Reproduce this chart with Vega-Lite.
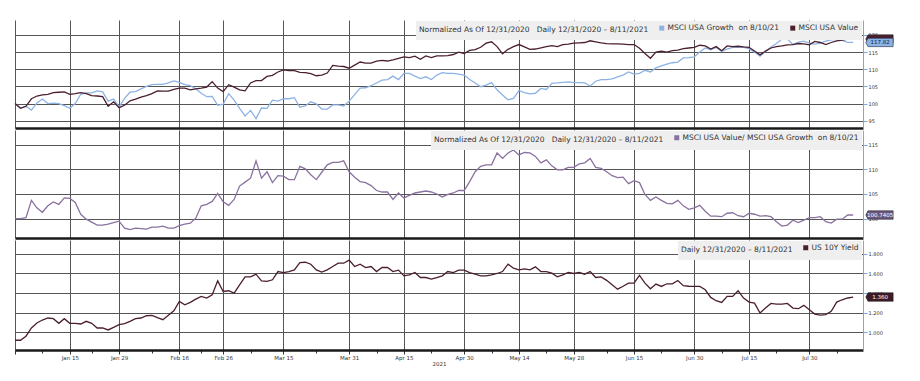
{
  "$schema": "https://vega.github.io/schema/vega-lite/v6.json",
  "padding": {"left": 12, "top": 20, "right": 4, "bottom": 4},
  "background": "white",
  "spacing": 2,
  "datasets": {
    "t": [
      {"d":"2020-12-31","g":100.0,"v":100.0,"r":100.0,"y":0.919},
      {"d":"2021-01-04","g":98.7,"v":98.6,"r":100.0,"y":0.919},
      {"d":"2021-01-05","g":99.2,"v":99.2,"r":100.2,"y":0.96},
      {"d":"2021-01-06","g":98.1,"v":101.4,"r":103.7,"y":1.044},
      {"d":"2021-01-07","g":100.2,"v":102.2,"r":102.2,"y":1.095},
      {"d":"2021-01-08","g":101.3,"v":102.5,"r":101.3,"y":1.125},
      {"d":"2021-01-11","g":100.0,"v":102.7,"r":102.6,"y":1.146},
      {"d":"2021-01-12","g":100.1,"v":103.2,"r":103.4,"y":1.139},
      {"d":"2021-01-13","g":100.0,"v":103.3,"r":102.9,"y":1.092},
      {"d":"2021-01-14","g":99.4,"v":103.4,"r":104.2,"y":1.139},
      {"d":"2021-01-15","g":98.6,"v":102.7,"r":104.1,"y":1.092},
      {"d":"2021-01-19","g":100.0,"v":102.9,"r":103.3,"y":1.092},
      {"d":"2021-01-20","g":102.7,"v":103.2,"r":100.9,"y":1.085},
      {"d":"2021-01-21","g":103.1,"v":102.9,"r":99.9,"y":1.112},
      {"d":"2021-01-22","g":103.1,"v":102.3,"r":99.3,"y":1.092},
      {"d":"2021-01-25","g":103.7,"v":102.2,"r":98.7,"y":1.044},
      {"d":"2021-01-26","g":103.4,"v":102.0,"r":98.7,"y":1.044},
      {"d":"2021-01-27","g":100.7,"v":99.2,"r":98.9,"y":1.024},
      {"d":"2021-01-28","g":101.3,"v":100.5,"r":99.2,"y":1.051},
      {"d":"2021-01-29","g":99.0,"v":98.8,"r":99.5,"y":1.078},
      {"d":"2021-02-01","g":101.5,"v":99.5,"r":98.1,"y":1.088},
      {"d":"2021-02-02","g":103.3,"v":100.8,"r":97.8,"y":1.112},
      {"d":"2021-02-03","g":103.5,"v":101.3,"r":98.1,"y":1.139},
      {"d":"2021-02-04","g":104.3,"v":101.9,"r":98.0,"y":1.146},
      {"d":"2021-02-05","g":105.0,"v":102.3,"r":97.9,"y":1.169},
      {"d":"2021-02-08","g":105.5,"v":102.9,"r":98.3,"y":1.173},
      {"d":"2021-02-09","g":105.6,"v":103.7,"r":98.3,"y":1.150},
      {"d":"2021-02-10","g":105.6,"v":103.6,"r":98.5,"y":1.129},
      {"d":"2021-02-11","g":106.0,"v":103.6,"r":98.1,"y":1.173},
      {"d":"2021-02-12","g":106.6,"v":104.1,"r":98.1,"y":1.22},
      {"d":"2021-02-16","g":106.2,"v":104.5,"r":98.6,"y":1.315},
      {"d":"2021-02-17","g":105.5,"v":104.5,"r":98.9,"y":1.281},
      {"d":"2021-02-18","g":105.2,"v":104.0,"r":99.1,"y":1.305},
      {"d":"2021-02-19","g":104.3,"v":104.3,"r":100.1,"y":1.339},
      {"d":"2021-02-22","g":103.0,"v":104.5,"r":102.6,"y":1.366},
      {"d":"2021-02-23","g":102.0,"v":104.8,"r":102.9,"y":1.349},
      {"d":"2021-02-24","g":102.1,"v":106.4,"r":103.5,"y":1.383},
      {"d":"2021-02-25","g":99.5,"v":104.5,"r":105.1,"y":1.525},
      {"d":"2021-02-26","g":99.8,"v":103.5,"r":103.4,"y":1.417},
      {"d":"2021-03-01","g":102.9,"v":105.5,"r":102.7,"y":1.424},
      {"d":"2021-03-02","g":101.0,"v":104.8,"r":103.9,"y":1.40},
      {"d":"2021-03-03","g":98.6,"v":104.0,"r":106.6,"y":1.485},
      {"d":"2021-03-04","g":96.4,"v":103.7,"r":107.4,"y":1.566},
      {"d":"2021-03-05","g":98.0,"v":106.0,"r":108.2,"y":1.566},
      {"d":"2021-03-08","g":95.6,"v":106.7,"r":111.7,"y":1.593},
      {"d":"2021-03-09","g":98.7,"v":106.7,"r":108.2,"y":1.525},
      {"d":"2021-03-10","g":98.6,"v":107.9,"r":109.5,"y":1.519},
      {"d":"2021-03-11","g":101.0,"v":108.2,"r":107.3,"y":1.536},
      {"d":"2021-03-12","g":100.7,"v":109.2,"r":108.7,"y":1.62},
      {"d":"2021-03-15","g":101.4,"v":109.8,"r":108.6,"y":1.61},
      {"d":"2021-03-16","g":101.4,"v":109.6,"r":107.9,"y":1.62},
      {"d":"2021-03-17","g":101.7,"v":109.6,"r":107.9,"y":1.637},
      {"d":"2021-03-18","g":98.9,"v":109.1,"r":110.6,"y":1.712},
      {"d":"2021-03-19","g":99.3,"v":109.0,"r":110.1,"y":1.715},
      {"d":"2021-03-22","g":100.5,"v":108.7,"r":108.9,"y":1.695},
      {"d":"2021-03-23","g":99.9,"v":108.1,"r":107.9,"y":1.637},
      {"d":"2021-03-24","g":98.4,"v":108.3,"r":109.4,"y":1.614},
      {"d":"2021-03-25","g":98.4,"v":108.9,"r":110.9,"y":1.637},
      {"d":"2021-03-26","g":99.6,"v":111.1,"r":111.4,"y":1.671},
      {"d":"2021-03-29","g":99.6,"v":110.9,"r":111.4,"y":1.705},
      {"d":"2021-03-30","g":99.3,"v":110.8,"r":111.7,"y":1.705},
      {"d":"2021-03-31","g":100.7,"v":110.3,"r":109.5,"y":1.736},
      {"d":"2021-04-01","g":102.6,"v":111.2,"r":108.4,"y":1.671},
      {"d":"2021-04-05","g":104.5,"v":112.1,"r":107.5,"y":1.695},
      {"d":"2021-04-06","g":104.6,"v":111.8,"r":107.3,"y":1.661},
      {"d":"2021-04-07","g":105.2,"v":111.8,"r":106.7,"y":1.671},
      {"d":"2021-04-08","g":106.0,"v":112.4,"r":105.7,"y":1.62},
      {"d":"2021-04-09","g":106.8,"v":112.6,"r":105.4,"y":1.661},
      {"d":"2021-04-12","g":107.0,"v":112.4,"r":105.4,"y":1.661},
      {"d":"2021-04-13","g":108.0,"v":112.7,"r":103.9,"y":1.62},
      {"d":"2021-04-14","g":107.0,"v":113.2,"r":105.2,"y":1.634},
      {"d":"2021-04-15","g":108.8,"v":113.6,"r":104.2,"y":1.576},
      {"d":"2021-04-16","g":108.8,"v":113.4,"r":104.7,"y":1.586},
      {"d":"2021-04-19","g":108.0,"v":113.8,"r":105.2,"y":1.61},
      {"d":"2021-04-20","g":107.3,"v":112.9,"r":105.4,"y":1.559},
      {"d":"2021-04-21","g":107.8,"v":113.9,"r":105.6,"y":1.559},
      {"d":"2021-04-22","g":107.0,"v":113.4,"r":105.4,"y":1.542},
      {"d":"2021-04-23","g":108.3,"v":113.9,"r":105.0,"y":1.559},
      {"d":"2021-04-26","g":109.0,"v":113.9,"r":104.4,"y":1.576},
      {"d":"2021-04-27","g":108.8,"v":114.0,"r":104.9,"y":1.62},
      {"d":"2021-04-28","g":108.8,"v":114.3,"r":105.2,"y":1.61},
      {"d":"2021-04-29","g":108.6,"v":115.0,"r":105.7,"y":1.634},
      {"d":"2021-04-30","g":108.3,"v":114.6,"r":105.7,"y":1.634},
      {"d":"2021-05-03","g":107.0,"v":115.5,"r":107.5,"y":1.61},
      {"d":"2021-05-04","g":106.0,"v":115.7,"r":109.5,"y":1.593},
      {"d":"2021-05-05","g":104.9,"v":116.4,"r":110.6,"y":1.576},
      {"d":"2021-05-06","g":105.4,"v":117.6,"r":110.9,"y":1.576},
      {"d":"2021-05-07","g":106.1,"v":118.0,"r":110.9,"y":1.586},
      {"d":"2021-05-10","g":104.0,"v":116.6,"r":113.3,"y":1.60},
      {"d":"2021-05-11","g":102.5,"v":114.5,"r":112.2,"y":1.62},
      {"d":"2021-05-12","g":101.1,"v":115.8,"r":113.3,"y":1.695},
      {"d":"2021-05-13","g":101.5,"v":116.6,"r":113.9,"y":1.654},
      {"d":"2021-05-14","g":103.8,"v":117.2,"r":112.9,"y":1.637},
      {"d":"2021-05-17","g":103.2,"v":116.5,"r":113.4,"y":1.647},
      {"d":"2021-05-18","g":102.8,"v":115.8,"r":113.3,"y":1.637},
      {"d":"2021-05-19","g":103.0,"v":115.9,"r":112.6,"y":1.668},
      {"d":"2021-05-20","g":104.4,"v":116.2,"r":111.3,"y":1.62},
      {"d":"2021-05-21","g":104.1,"v":116.6,"r":111.9,"y":1.62},
      {"d":"2021-05-24","g":105.9,"v":116.9,"r":110.7,"y":1.603},
      {"d":"2021-05-25","g":106.0,"v":116.6,"r":109.9,"y":1.566},
      {"d":"2021-05-26","g":106.2,"v":117.2,"r":109.9,"y":1.586},
      {"d":"2021-05-27","g":106.3,"v":117.3,"r":110.4,"y":1.61},
      {"d":"2021-05-28","g":106.1,"v":117.6,"r":110.4,"y":1.60},
      {"d":"2021-06-01","g":106.1,"v":117.7,"r":111.1,"y":1.61},
      {"d":"2021-06-02","g":106.0,"v":117.8,"r":111.3,"y":1.593},
      {"d":"2021-06-03","g":105.1,"v":118.3,"r":112.2,"y":1.62},
      {"d":"2021-06-04","g":106.5,"v":118.0,"r":110.4,"y":1.559},
      {"d":"2021-06-07","g":107.0,"v":117.7,"r":110.2,"y":1.566},
      {"d":"2021-06-08","g":107.0,"v":117.5,"r":109.5,"y":1.53},
      {"d":"2021-06-09","g":107.2,"v":117.4,"r":108.7,"y":1.485},
      {"d":"2021-06-10","g":107.8,"v":117.4,"r":108.3,"y":1.44},
      {"d":"2021-06-11","g":108.3,"v":117.3,"r":108.4,"y":1.47},
      {"d":"2021-06-14","g":109.2,"v":117.2,"r":107.1,"y":1.502},
      {"d":"2021-06-15","g":108.6,"v":117.2,"r":107.7,"y":1.502},
      {"d":"2021-06-16","g":108.8,"v":116.1,"r":107.3,"y":1.58},
      {"d":"2021-06-17","g":109.7,"v":114.6,"r":104.9,"y":1.502},
      {"d":"2021-06-18","g":109.2,"v":113.2,"r":103.7,"y":1.444},
      {"d":"2021-06-21","g":110.4,"v":115.0,"r":104.4,"y":1.492},
      {"d":"2021-06-22","g":111.0,"v":115.3,"r":103.7,"y":1.468},
      {"d":"2021-06-23","g":111.5,"v":115.0,"r":103.1,"y":1.495},
      {"d":"2021-06-24","g":111.9,"v":115.4,"r":103.0,"y":1.495},
      {"d":"2021-06-25","g":112.1,"v":115.6,"r":103.7,"y":1.529},
      {"d":"2021-06-28","g":113.3,"v":116.0,"r":102.6,"y":1.475},
      {"d":"2021-06-29","g":113.4,"v":116.2,"r":101.9,"y":1.47},
      {"d":"2021-06-30","g":113.6,"v":116.4,"r":102.2,"y":1.468},
      {"d":"2021-07-01","g":115.0,"v":117.0,"r":102.7,"y":1.468},
      {"d":"2021-07-02","g":116.2,"v":116.8,"r":101.5,"y":1.434},
      {"d":"2021-07-06","g":115.7,"v":115.9,"r":100.5,"y":1.356},
      {"d":"2021-07-07","g":116.4,"v":116.6,"r":100.5,"y":1.322},
      {"d":"2021-07-08","g":115.2,"v":115.4,"r":100.4,"y":1.305},
      {"d":"2021-07-09","g":115.9,"v":116.8,"r":101.1,"y":1.366},
      {"d":"2021-07-12","g":116.4,"v":116.6,"r":101.2,"y":1.366},
      {"d":"2021-07-13","g":116.4,"v":116.7,"r":100.6,"y":1.424},
      {"d":"2021-07-14","g":116.4,"v":116.5,"r":100.4,"y":1.349},
      {"d":"2021-07-15","g":116.0,"v":116.4,"r":101.1,"y":1.308},
      {"d":"2021-07-16","g":115.0,"v":115.3,"r":100.9,"y":1.298},
      {"d":"2021-07-19","g":113.8,"v":114.2,"r":100.5,"y":1.197},
      {"d":"2021-07-20","g":115.2,"v":115.3,"r":100.6,"y":1.247},
      {"d":"2021-07-21","g":116.5,"v":116.2,"r":100.4,"y":1.295},
      {"d":"2021-07-22","g":117.5,"v":116.6,"r":99.4,"y":1.288},
      {"d":"2021-07-23","g":118.8,"v":116.8,"r":98.5,"y":1.288},
      {"d":"2021-07-26","g":118.8,"v":117.1,"r":98.7,"y":1.295},
      {"d":"2021-07-27","g":117.2,"v":117.2,"r":99.7,"y":1.247},
      {"d":"2021-07-28","g":117.9,"v":117.5,"r":99.2,"y":1.241},
      {"d":"2021-07-29","g":118.2,"v":117.4,"r":99.7,"y":1.275},
      {"d":"2021-07-30","g":117.6,"v":117.1,"r":100.2,"y":1.231},
      {"d":"2021-08-02","g":117.3,"v":118.1,"r":100.2,"y":1.186},
      {"d":"2021-08-03","g":117.6,"v":117.8,"r":100.4,"y":1.176},
      {"d":"2021-08-04","g":118.2,"v":117.2,"r":99.4,"y":1.18},
      {"d":"2021-08-05","g":118.6,"v":117.8,"r":99.1,"y":1.214},
      {"d":"2021-08-06","g":118.7,"v":118.3,"r":99.9,"y":1.308},
      {"d":"2021-08-09","g":118.4,"v":118.5,"r":99.9,"y":1.332},
      {"d":"2021-08-10","g":117.82,"v":118.8,"r":100.7405,"y":1.35},
      {"d":"2021-08-11","g":117.82,"v":118.8,"r":100.7405,"y":1.36}
    ]
  },
  "vconcat": [
    {
      "width": 848, "height": 108,
      "data": {"name": "t"},
      "encoding": {
        "x": {"field": "d", "type": "ordinal", "sort": "ascending",
          "scale": {"type": "point", "padding": 0.9, "align": 0},
          "axis": {"labels": false, "ticks": false, "title": null, "grid": true,
            "values": ["2020-12-31","2021-01-15","2021-01-29","2021-02-16","2021-02-26","2021-03-15","2021-03-31","2021-04-15","2021-04-30","2021-05-14","2021-05-28","2021-06-15","2021-06-30","2021-07-15","2021-07-30"]}}
      },
      "layer": [
        {
          "transform": [{"fold": ["g", "v"], "as": ["s", "val"]}],
          "mark": {"type": "line", "strokeWidth": 1.3},
          "encoding": {
            "y": {"field": "val", "type": "quantitative",
              "scale": {"domain": [92.87, 124.36], "nice": false, "zero": false},
              "axis": {"orient": "right", "title": null, "grid": true, "labelOverlap": false, "values": [95, 100, 105, 110, 115, 120], "format": "d"}},
            "color": {"field": "s", "type": "nominal",
              "scale": {"domain": ["g", "v"], "range": ["#8cb3e3", "#4b1f2e"]},
              "legend": {"title": "Normalized As Of 12/31/2020\u00a0\u00a0\u00a0Daily 12/31/2020 \u2013 8/11/2021",
                "labelExpr": "datum.value == 'g' ? 'MSCI USA Growth\u00a0\u00a0on 8/10/21' : 'MSCI USA Value'"}}
          }
        },
        {
          "transform": [{"filter": "datum.d == '2021-08-11'"}],
          "mark": {"type": "point", "shape": "M-0.95,0L-0.8,-0.3L1,-0.3L1,0.3L-0.8,0.3Z", "size": 784, "filled": true, "color": "#4b1f2e", "stroke": "#222222", "strokeWidth": 0.6, "opacity": 1, "xOffset": 26},
          "encoding": {"y": {"field": "v", "type": "quantitative",
            "axis": {"orient": "right", "title": null, "grid": true, "labelOverlap": false, "values": [95, 100, 105, 110, 115, 120], "format": "d"}}}
        },
        {
          "transform": [{"filter": "datum.d == '2021-08-11'"}],
          "mark": {"type": "point", "shape": "M-0.95,0L-0.8,-0.3L1,-0.3L1,0.3L-0.8,0.3Z", "size": 784, "filled": true, "color": "#8cb3e3", "stroke": "#1b2a4a", "strokeWidth": 0.6, "opacity": 1, "xOffset": 26},
          "encoding": {"y": {"field": "g", "type": "quantitative",
            "axis": {"orient": "right", "title": null, "grid": true, "labelOverlap": false, "values": [95, 100, 105, 110, 115, 120], "format": "d"}}}
        },
        {
          "transform": [{"filter": "datum.d == '2021-08-11'"}],
          "mark": {"type": "text", "dx": 27, "fontSize": 5.5, "color": "#0d1b3e", "baseline": "middle", "align": "center"},
          "encoding": {"y": {"field": "g", "type": "quantitative",
            "axis": {"orient": "right", "title": null, "grid": true, "labelOverlap": false, "values": [95, 100, 105, 110, 115, 120], "format": "d"}},
            "text": {"field": "g", "format": ".2f"}}
        }
      ]
    },
    {
      "width": 848, "height": 108,
      "data": {"name": "t"},
      "encoding": {
        "x": {"field": "d", "type": "ordinal", "sort": "ascending",
          "scale": {"type": "point", "padding": 0.9, "align": 0},
          "axis": {"labels": false, "ticks": false, "title": null, "grid": true,
            "values": ["2020-12-31","2021-01-15","2021-01-29","2021-02-16","2021-02-26","2021-03-15","2021-03-31","2021-04-15","2021-04-30","2021-05-14","2021-05-28","2021-06-15","2021-06-30","2021-07-15","2021-07-30"]}}
      },
      "layer": [
        {
          "mark": {"type": "line", "strokeWidth": 1.3},
          "encoding": {
            "y": {"field": "r", "type": "quantitative",
              "scale": {"domain": [96.09, 117.95], "nice": false, "zero": false},
              "axis": {"orient": "right", "title": null, "grid": true, "labelOverlap": false, "values": [100, 105, 110, 115], "format": "d"}},
            "color": {"datum": "r", "type": "nominal",
              "scale": {"domain": ["r"], "range": ["#8a72a0"]},
              "legend": {"title": "Normalized As Of 12/31/2020\u00a0\u00a0\u00a0Daily 12/31/2020 \u2013 8/11/2021",
                "labelExpr": "'MSCI USA Value/ MSCI USA Growth\u00a0\u00a0on 8/10/21'"}}
          }
        },
        {
          "transform": [{"filter": "datum.d == '2021-08-11'"}],
          "mark": {"type": "point", "shape": "M-0.95,0L-0.8,-0.3L1,-0.3L1,0.3L-0.8,0.3Z", "size": 784, "filled": true, "color": "#6b577f", "stroke": "#222222", "strokeWidth": 0.6, "opacity": 1, "xOffset": 26},
          "encoding": {"y": {"field": "r", "type": "quantitative",
            "axis": {"orient": "right", "title": null, "grid": true, "labelOverlap": false, "values": [100, 105, 110, 115], "format": "d"}}}
        },
        {
          "transform": [{"filter": "datum.d == '2021-08-11'"}],
          "mark": {"type": "text", "dx": 27, "fontSize": 5.5, "color": "white", "baseline": "middle", "align": "center"},
          "encoding": {"y": {"field": "r", "type": "quantitative",
            "axis": {"orient": "right", "title": null, "grid": true, "labelOverlap": false, "values": [100, 105, 110, 115], "format": "d"}},
            "text": {"field": "r", "format": ".4f"}}
        }
      ]
    },
    {
      "width": 848, "height": 110,
      "data": {"name": "t"},
      "encoding": {
        "x": {"field": "d", "type": "ordinal", "sort": "ascending",
          "scale": {"type": "point", "padding": 0.9, "align": 0},
          "axis": {"title": "2021", "grid": true,
            "values": ["2020-12-31","2021-01-08","2021-01-15","2021-01-22","2021-01-29","2021-02-08","2021-02-16","2021-02-22","2021-02-26","2021-03-05","2021-03-15","2021-03-23","2021-03-31","2021-04-08","2021-04-15","2021-04-22","2021-04-30","2021-05-07","2021-05-14","2021-05-21","2021-05-28","2021-06-08","2021-06-15","2021-06-22","2021-06-30","2021-07-08","2021-07-15","2021-07-22","2021-07-30","2021-08-06"],
            "labelExpr": "indexof(['2021-01-15','2021-01-29','2021-02-16','2021-02-26','2021-03-15','2021-03-31','2021-04-15','2021-04-30','2021-05-14','2021-05-28','2021-06-15','2021-06-30','2021-07-15','2021-07-30'], datum.value) >= 0 ? utcFormat(toDate(datum.value), '%b %d') : ''",
            "gridOpacity": {"condition": {"test": "indexof(['2020-12-31','2021-01-15','2021-01-29','2021-02-16','2021-02-26','2021-03-15','2021-03-31','2021-04-15','2021-04-30','2021-05-14','2021-05-28','2021-06-15','2021-06-30','2021-07-15','2021-07-30'], datum.value) >= 0", "value": 1}, "value": 0},
            "tickSize": {"condition": {"test": "indexof(['2020-12-31','2021-01-15','2021-01-29','2021-02-16','2021-02-26','2021-03-15','2021-03-31','2021-04-15','2021-04-30','2021-05-14','2021-05-28','2021-06-15','2021-06-30','2021-07-15','2021-07-30'], datum.value) >= 0", "value": 4}, "value": 3}}}
      },
      "layer": [
        {
          "mark": {"type": "line", "strokeWidth": 1.3},
          "encoding": {
            "y": {"field": "y", "type": "quantitative",
              "scale": {"domain": [0.8194, 1.9418], "nice": false, "zero": false},
              "axis": {"orient": "right", "title": null, "grid": true, "labelOverlap": false, "values": [1.0, 1.2, 1.4, 1.6, 1.8], "format": ".3f"}},
            "color": {"datum": "y", "type": "nominal",
              "scale": {"domain": ["y"], "range": ["#4b1f2e"]},
              "legend": {"title": "Daily 12/31/2020 \u2013 8/11/2021", "labelExpr": "'US 10Y Yield'"}}
          }
        },
        {
          "transform": [{"filter": "datum.d == '2021-08-11'"}],
          "mark": {"type": "point", "shape": "M-0.95,0L-0.8,-0.3L1,-0.3L1,0.3L-0.8,0.3Z", "size": 784, "filled": true, "color": "#3d1a26", "stroke": "#222222", "strokeWidth": 0.6, "opacity": 1, "xOffset": 26},
          "encoding": {"y": {"field": "y", "type": "quantitative",
            "axis": {"orient": "right", "title": null, "grid": true, "labelOverlap": false, "values": [1.0, 1.2, 1.4, 1.6, 1.8], "format": ".3f"}}}
        },
        {
          "transform": [{"filter": "datum.d == '2021-08-11'"}],
          "mark": {"type": "text", "dx": 27, "fontSize": 5.5, "color": "white", "baseline": "middle", "align": "center"},
          "encoding": {"y": {"field": "y", "type": "quantitative",
            "axis": {"orient": "right", "title": null, "grid": true, "labelOverlap": false, "values": [1.0, 1.2, 1.4, 1.6, 1.8], "format": ".3f"}},
            "text": {"field": "y", "format": ".3f"}}
        }
      ]
    }
  ],
  "resolve": {"scale": {"y": "independent", "color": "independent"}, "legend": {"color": "independent"}},
  "config": {
    "font": "DejaVu Sans",
    "view": {"stroke": null},
    "axisX": {"domainColor": "#1a1a1a", "domainWidth": 2.5, "gridColor": "#555555", "gridWidth": 1, "tickColor": "#333333",
      "labelFontSize": 5.5, "labelColor": "#333333", "labelAngle": 0, "labelPadding": 1, "labelFlush": false, "labelOverlap": false,
      "titleFontSize": 5.5, "titleFontWeight": "normal", "titleColor": "#333333", "titlePadding": 1},
    "axisY": {"domainColor": "#7ea8dd", "domainWidth": 1, "tickColor": "#7ea8dd", "tickSize": 4, "gridColor": "#555555", "gridWidth": 1, "gridOpacity": 1,
      "labelFontSize": 5, "labelColor": "#333333", "labelPadding": 1, "labelFlush": false, "labelOverlap": false},
    "legend": {"orient": "top-right", "offset": 1, "direction": "horizontal", "titleOrient": "left", "fillColor": "#efefef",
      "padding": 3, "symbolType": "square", "symbolSize": 1, "symbolStrokeWidth": 4, "labelFontSize": 7.5, "titleFontSize": 7.5,
      "titleFontWeight": "normal", "titleColor": "#333333", "labelColor": "#333333", "titleLimit": 600, "labelLimit": 400,
      "titlePadding": 9, "labelOffset": 2, "columnPadding": 4, "symbolOpacity": 1}
  }
}
